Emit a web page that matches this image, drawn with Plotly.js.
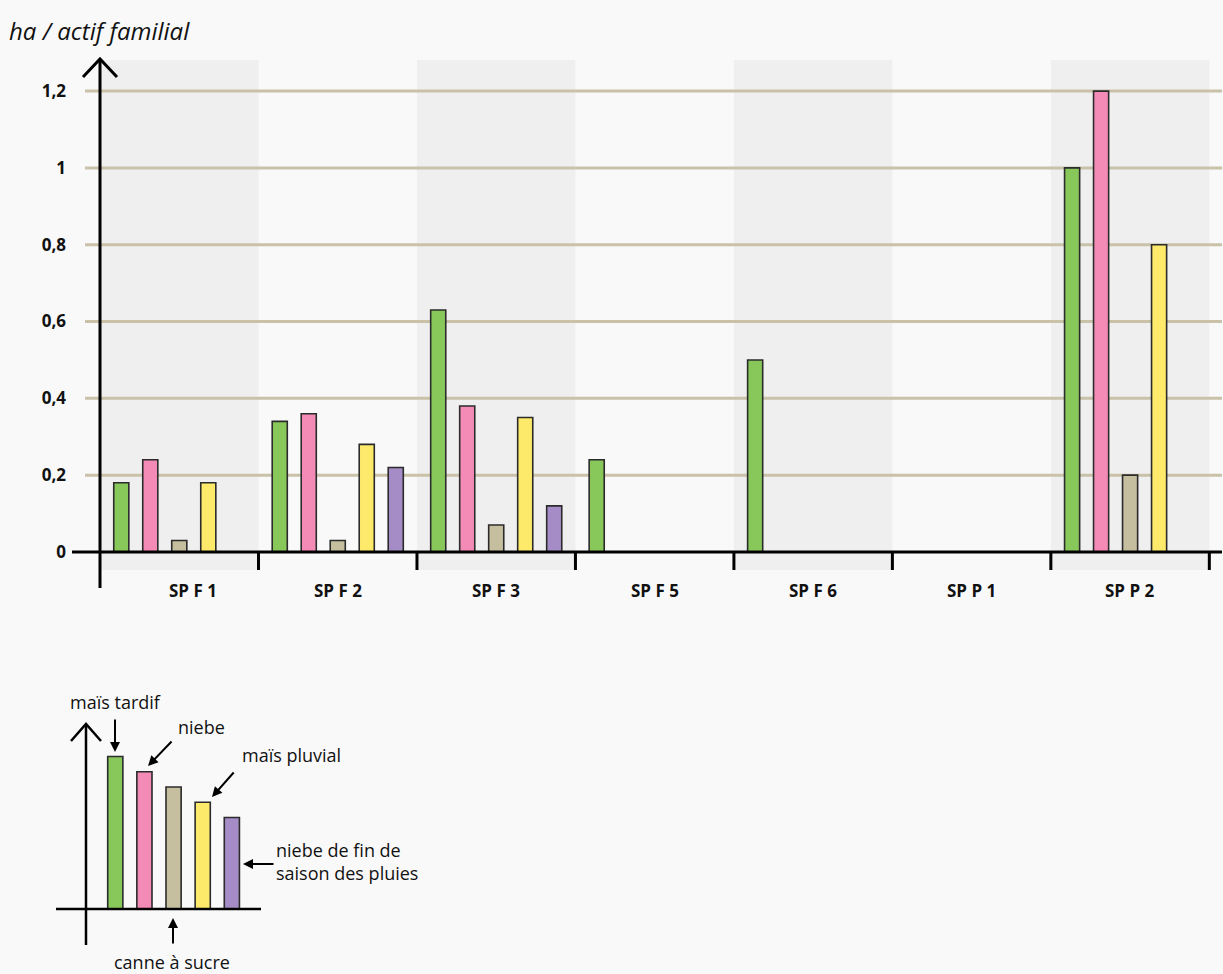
<!DOCTYPE html>
<html>
<head>
<meta charset="utf-8">
<script src="https://cdn.plot.ly/plotly-3.0.1.min.js"></script>
<style>html,body{margin:0;padding:0;background:#f9f9f9;}#chart{width:1223px;height:974px;}</style>
</head>
<body>
<div id="chart"></div>
<script>
// ---- data ----
const categories = ['SP F 1', 'SP F 2', 'SP F 3', 'SP F 5', 'SP F 6', 'SP P 1', 'SP P 2'];
const maisTardif  = [0.18, 0.34, 0.63, 0.24, 0.50, null, 1.00];
const niebe       = [0.24, 0.36, 0.38, null, null, null, 1.20];
const canneASucre = [0.03, 0.03, 0.07, null, null, null, 0.20];
const maisPluvial = [0.18, 0.28, 0.35, null, null, null, 0.80];
const niebeFin    = [null, 0.22, 0.12, null, null, null, null];
const yTickVals   = [0, 0.2, 0.4, 0.6, 0.8, 1, 1.2];
const yTickText   = ['0', '0,2', '0,4', '0,6', '0,8', '1', '1,2'];
const seriesNames = ['maïs tardif', 'niebe', 'canne à sucre', 'maïs pluvial', 'niebe de fin de saison des pluies'];
const legendHeights = [5, 4.5, 4, 3.5, 3];

const colors = ['#88c85a', '#f48bb6', '#c5bf9f', '#fde96a', '#a68cc6'];
const W = 1223, H = 974;
const px = v => v / W;
const py = v => 1 - v / H;

const seriesData = [maisTardif, niebe, canneASucre, maisPluvial, niebeFin];
const traces = seriesData.map((ys, i) => ({
  type: 'bar', x: categories, y: ys, name: seriesNames[i],
  marker: {color: colors[i], line: {color: '#2b2b2b', width: 1.6}},
  xaxis: 'x', yaxis: 'y', showlegend: false, hoverinfo: 'x+y+name'
}));
traces.push({
  type: 'bar', x: [0, 1, 2, 3, 4], y: legendHeights, width: 0.52,
  marker: {color: colors, line: {color: '#2b2b2b', width: 1.6}},
  xaxis: 'x2', yaxis: 'y2', showlegend: false, hoverinfo: 'skip'
});

const yMin = -0.047, yMax = 1.281, xMin = -0.677, xMax = 6.58;
const shapes = [];
// shaded bands
categories.forEach((c, i) => {
  if (i % 2 === 0) shapes.push({type: 'rect', xref: 'x', yref: 'y', x0: i - 0.5, x1: i + 0.5, y0: yMin, y1: yMax,
    fillcolor: '#efefef', line: {width: 0}, layer: 'below'});
});
// grid lines
yTickVals.forEach(v => {
  if (v > 0) shapes.push({type: 'line', xref: 'x', yref: 'y', x0: -0.595, x1: xMax, y0: v, y1: v,
    line: {color: '#c9c2a8', width: 3}, layer: 'below'});
});
// zero line
shapes.push({type: 'line', xref: 'paper', yref: 'y', x0: px(72), x1: px(1222), y0: 0, y1: 0, line: {color: '#000', width: 3}});
// group separator ticks
categories.forEach((c, i) => {
  shapes.push({type: 'line', xref: 'x', yref: 'y', x0: i + 0.5, x1: i + 0.5, y0: 0, y1: yMin, line: {color: '#000', width: 3}});
});
// y axis with arrow
shapes.push({type: 'line', xref: 'paper', yref: 'paper', x0: px(100), x1: px(100), y0: py(588), y1: py(59), line: {color: '#000', width: 3}});
shapes.push({type: 'path', xref: 'paper', yref: 'paper',
  path: `M ${px(83)},${py(77)} L ${px(100)},${py(59)} L ${px(117)},${py(77)}`, line: {color: '#000', width: 3}});
// legend axes
shapes.push({type: 'line', xref: 'paper', yref: 'paper', x0: px(56), x1: px(261), y0: py(909), y1: py(909), line: {color: '#000', width: 2.5}});
shapes.push({type: 'line', xref: 'paper', yref: 'paper', x0: px(86), x1: px(86), y0: py(945), y1: py(724), line: {color: '#000', width: 2.5}});
shapes.push({type: 'path', xref: 'paper', yref: 'paper',
  path: `M ${px(71)},${py(741)} L ${px(86)},${py(724)} L ${px(101)},${py(741)}`, line: {color: '#000', width: 2.5}});

const fnt = {family: 'Open Sans, sans-serif', size: 18, color: '#111'};
const annotations = [
  {text: '<i>ha / actif familial</i>', xref: 'paper', yref: 'paper', x: px(7), y: py(31), xanchor: 'left', yanchor: 'middle',
   showarrow: false, font: {family: 'Open Sans, sans-serif', size: 24, color: '#111'}},
  {text: 'maïs tardif', xref: 'paper', yref: 'paper', x: px(115), y: py(702), xanchor: 'center', yanchor: 'middle', showarrow: false, font: fnt},
  {text: 'niebe', xref: 'paper', yref: 'paper', x: px(201), y: py(727), xanchor: 'center', yanchor: 'middle', showarrow: false, font: fnt},
  {text: 'maïs pluvial', xref: 'paper', yref: 'paper', x: px(291), y: py(755), xanchor: 'center', yanchor: 'middle', showarrow: false, font: fnt},
  {text: 'niebe de fin de<br>saison des pluies', xref: 'paper', yref: 'paper', x: px(274), y: py(861), xanchor: 'left', yanchor: 'middle', align: 'left',
   showarrow: false, font: fnt},
  {text: 'canne à sucre', xref: 'paper', yref: 'paper', x: px(172), y: py(962), xanchor: 'center', yanchor: 'middle', showarrow: false, font: fnt},
];
// category labels under the axis
const labelShift = [14, 0, 0, 0, 0, 0, 0];
categories.forEach((c, i) => annotations.push({text: '<b>' + c + '</b>', xref: 'x', yref: 'paper', x: c, y: py(590),
  xshift: labelShift[i], xanchor: 'center', yanchor: 'middle', showarrow: false,
  font: {family: 'Open Sans, sans-serif', size: 17, color: '#111'}}));
const arrows = [
  [115, 752, 0, -34], [148, 766, 25, -26], [212, 797, 23, -26], [243, 864, 32, 0], [173, 918, 0, 27]
];
arrows.forEach(a => annotations.push({text: '', xref: 'paper', yref: 'paper', x: px(a[0]), y: py(a[1]), ax: a[2], ay: a[3],
  showarrow: true, arrowhead: 2, arrowsize: 1, arrowwidth: 2, arrowcolor: '#000', standoff: 0, startstandoff: 0}));

const layout = {
  width: W, height: H, margin: {l: 0, r: 0, t: 0, b: 0},
  paper_bgcolor: '#f9f9f9', plot_bgcolor: 'rgba(0,0,0,0)',
  barmode: 'group', bargap: 0.085, bargroupgap: 0.48,
  font: {family: 'Open Sans, sans-serif', color: '#111'},
  xaxis: {domain: [px(72), px(1222)], range: [xMin, xMax], type: 'category', categoryorder: 'array', categoryarray: categories,
    showgrid: false, showline: false, zeroline: false, ticks: '', showticklabels: false, fixedrange: true},
  yaxis: {domain: [py(570), py(60)], range: [yMin, yMax], tickvals: yTickVals, ticktext: yTickText,
    showgrid: false, showline: false, zeroline: false, ticks: '', ticklabelstandoff: 5,
    tickfont: {family: 'Open Sans, sans-serif', size: 17, weight: 'bold', color: '#111'}, fixedrange: true},
  xaxis2: {domain: [px(56), px(261)], range: [-2.034, 5.0], visible: false, anchor: 'y2', fixedrange: true},
  yaxis2: {domain: [py(945), py(723)], range: [-1.18, 6.1], visible: false, anchor: 'x2', fixedrange: true},
  shapes: shapes, annotations: annotations
};
Plotly.newPlot('chart', traces, layout, {displayModeBar: false, staticPlot: true});
</script>
</body>
</html>
